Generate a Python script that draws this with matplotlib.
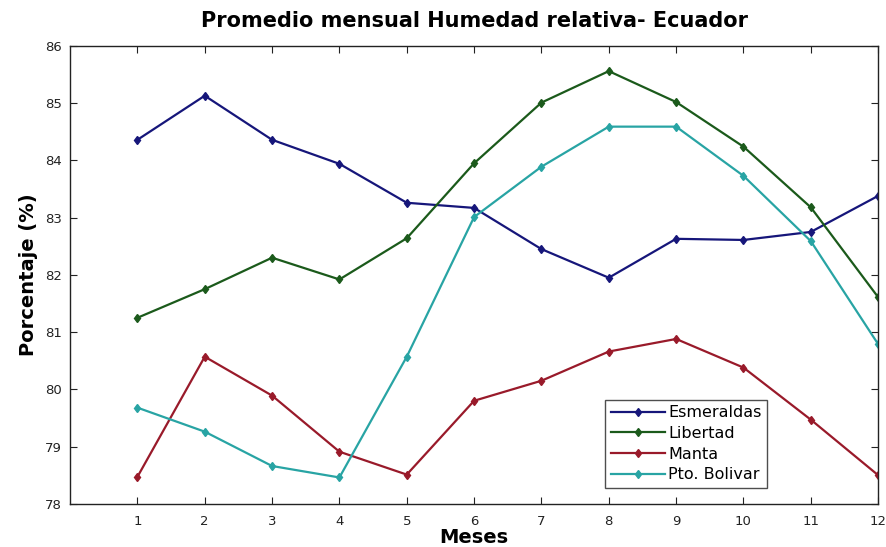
import matplotlib
matplotlib.use("Agg")
import matplotlib.pyplot as plt

plt.rcParams['font.family'] = ['DejaVu Sans']

meses = [1, 2, 3, 4, 5, 6, 7, 8, 9, 10, 11, 12]
esmeraldas = [84.36, 85.13, 84.36, 83.94, 83.26, 83.17, 82.45, 81.95, 82.63, 82.61, 82.75, 83.38]
libertad = [81.25, 81.75, 82.30, 81.92, 82.64, 83.95, 85.01, 85.56, 85.02, 84.24, 83.18, 81.61]
manta = [78.47, 80.57, 79.89, 78.91, 78.51, 79.80, 80.15, 80.66, 80.88, 80.38, 79.47, 78.50]
pto_bolivar = [79.68, 79.26, 78.66, 78.46, 80.57, 83.01, 83.89, 84.59, 84.59, 83.73, 82.59, 80.79]

series = [
    ("Esmeraldas", esmeraldas, "#16167a"),
    ("Libertad", libertad, "#1b5a1b"),
    ("Manta", manta, "#991a2a"),
    ("Pto. Bolivar", pto_bolivar, "#28a4a4"),
]

fig = plt.figure(figsize=(8.87, 5.47), dpi=100)
ax = fig.add_axes([0.079, 0.079, 0.911, 0.837])

for name, vals, col in series:
    ax.plot(meses, vals, '-', color=col, lw=1.6, marker='d', ms=4.5,
            mfc=col, mec=col, label=name)

ax.set_xlim(0, 12)
ax.set_ylim(78, 86)
ax.set_xticks(meses)
ax.set_yticks(range(78, 87))
ax.tick_params(direction='in', top=True, right=True, length=5, labelsize=9.5,
               colors='#222222')
ax.tick_params(axis='x', pad=8)
ax.tick_params(axis='y', pad=6)
for s in ax.spines.values():
    s.set_linewidth(1.0)
    s.set_color('#222222')

ax.set_title("Promedio mensual Humedad relativa- Ecuador", fontsize=15, fontweight='bold', pad=14)
ax.set_xlabel("Meses", fontsize=14, fontweight='bold', labelpad=0)
ax.set_ylabel("Porcentaje (%)", fontsize=14, fontweight='bold', labelpad=5)

leg = ax.legend(loc='lower left', bbox_to_anchor=(0.662, 0.035), fancybox=False,
                edgecolor='#222222', fontsize=11.5, handlelength=3.4, borderpad=0.35,
                labelspacing=0.35, handletextpad=0.2, borderaxespad=0)
leg.get_frame().set_linewidth(1.0)

fig.savefig("out.png", dpi=100)
